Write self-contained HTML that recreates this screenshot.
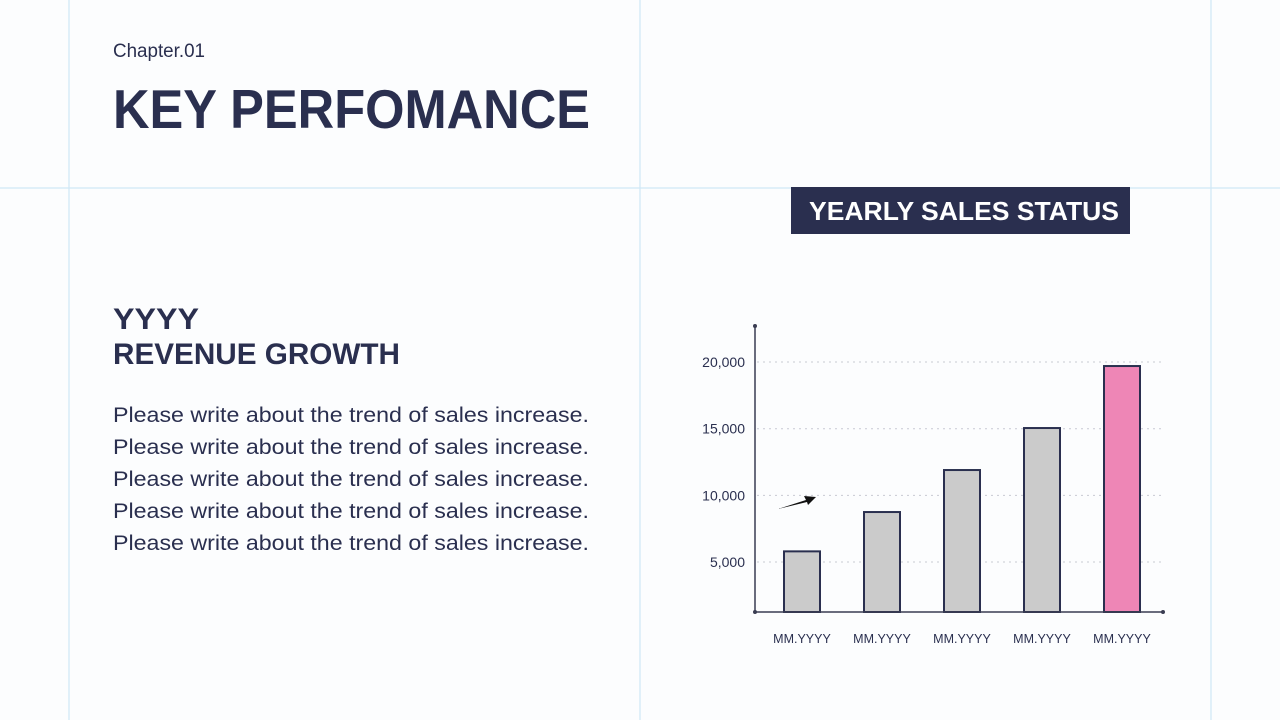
<!DOCTYPE html>
<html><head><meta charset="utf-8"><style>
html,body{margin:0;padding:0;background:#fcfdfe;}
svg{display:block;font-family:"Liberation Sans",sans-serif;}
</style></head><body>
<svg id="s" width="1280" height="720" viewBox="0 0 1280 720">
<rect width="1280" height="720" fill="#fcfdfe"/>
<g stroke="#cfe8f6" stroke-width="1.2">
<line x1="69" y1="0" x2="69" y2="720"/><line x1="640" y1="0" x2="640" y2="720"/><line x1="1211" y1="0" x2="1211" y2="720"/><line x1="0" y1="188" x2="1280" y2="188"/>
</g>
<text x="113" y="57" font-size="19" fill="#2a2f4f" textLength="92" lengthAdjust="spacingAndGlyphs">Chapter.01</text>
<text x="113" y="128" font-size="55" font-weight="bold" fill="#2a2f4f" textLength="477" lengthAdjust="spacingAndGlyphs">KEY PERFOMANCE</text>
<text x="113" y="329" font-size="30" font-weight="bold" fill="#2a2f4f" textLength="86" lengthAdjust="spacingAndGlyphs">YYYY</text>
<text x="113" y="364" font-size="30" font-weight="bold" fill="#2a2f4f" textLength="287" lengthAdjust="spacingAndGlyphs">REVENUE GROWTH</text>
<g font-size="21" fill="#2a2f4f">
<text x="113" y="422" textLength="476" lengthAdjust="spacingAndGlyphs">Please write about the trend of sales increase.</text>
<text x="113" y="454" textLength="476" lengthAdjust="spacingAndGlyphs">Please write about the trend of sales increase.</text>
<text x="113" y="486" textLength="476" lengthAdjust="spacingAndGlyphs">Please write about the trend of sales increase.</text>
<text x="113" y="518" textLength="476" lengthAdjust="spacingAndGlyphs">Please write about the trend of sales increase.</text>
<text x="113" y="550" textLength="476" lengthAdjust="spacingAndGlyphs">Please write about the trend of sales increase.</text>
</g>
<rect x="791" y="187" width="339" height="47" fill="#2a2f4f"/>
<text x="809" y="220" font-size="26" font-weight="bold" fill="#fff" textLength="310" lengthAdjust="spacingAndGlyphs">YEARLY SALES STATUS</text>
<g id="chart"></g>
</svg>
<script>
const categories = ["MM.YYYY","MM.YYYY","MM.YYYY","MM.YYYY","MM.YYYY"];
const sales = [5800, 8750, 11900, 15050, 19700];
const ticks = [5000, 10000, 15000, 20000];
const tickLabels = ["5,000","10,000","15,000","20,000"];
const NS="http://www.w3.org/2000/svg";
const g=document.getElementById('chart');
const y=v=>628.7-v*(200/15000);
const x=i=>802+i*80;
const base=612;
function mk(t,a){const e=document.createElementNS(NS,t);for(const k in a)e.setAttribute(k,a[k]);g.appendChild(e);return e;}
ticks.forEach((t,i)=>{
  const l=mk('line',{x1:757,x2:1165,y1:y(t),y2:y(t),stroke:'#c8cad3','stroke-width':1,'stroke-dasharray':'2,4'});
  
  
  const tx=mk('text',{x:745,y:y(t)+5,'font-size':14,fill:'#2a2f4f','text-anchor':'end'});
  tx.textContent=tickLabels[i];
  
  
});
let ax=mk('line',{x1:755,y1:326,x2:755,y2:base,stroke:'#3a3d52','stroke-width':1.5});


sales.forEach((v,i)=>{
  const r=mk('rect',{x:x(i)-18,y:y(v),width:36,height:base-y(v),fill:i===sales.length-1?'#ee86b6':'#cbcbcb',stroke:'#2a2f4f','stroke-width':2});
  
  
  const t=mk('text',{x:x(i),y:643,'font-size':12.5,fill:'#2a2f4f','text-anchor':'middle'});
  t.textContent=categories[i];
  
  
});
let bx=mk('line',{x1:755,y1:base,x2:1163,y2:base,stroke:'#3a3d52','stroke-width':1.5});


[[755,326],[755,base],[1163,base]].forEach(p=>{
  const c=mk('circle',{cx:p[0],cy:p[1],r:2,fill:'#3a3d52'});
  
  
});
let ar=mk('path',{d:'M778 509 L806 500 L804 496 L816 497 L808 505 L807 502 Z',fill:'#111'});


</script>
</body></html>
